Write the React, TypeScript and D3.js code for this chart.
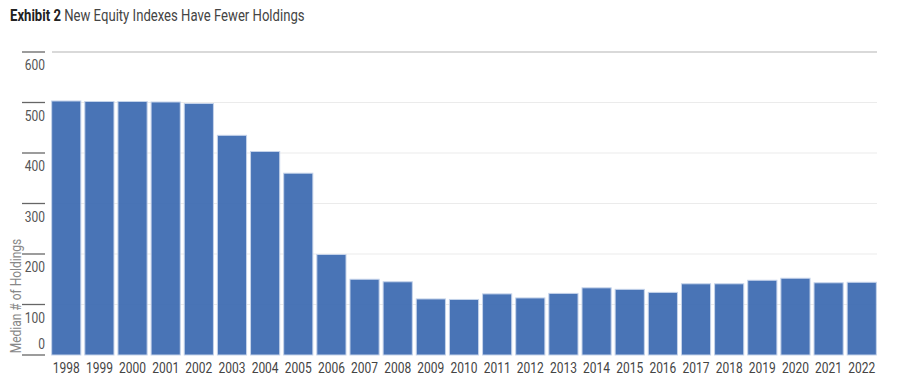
import React from "react";
import * as d3 from "d3";

const years = ["1998","1999","2000","2001","2002","2003","2004","2005","2006","2007","2008","2009","2010","2011","2012","2013","2014","2015","2016","2017","2018","2019","2020","2021","2022"];
const holdings = [503, 502, 502, 501, 498, 435, 403, 360, 199, 150, 145, 111, 110, 121, 113, 122, 133, 130, 124, 141, 141, 148, 152, 143, 144];
const yTicks = [0, 100, 200, 300, 400, 500, 600];

const W = 903, H = 378;
const FONT = "Roboto, sans-serif";

function CText(props: { x: number; y: number; rotate?: number; anchor?: string; size: number; fill: string; sx?: number; children: React.ReactNode }) {
  const { x, y, rotate = 0, anchor = "start", size, fill, sx = 0.8, children } = props;
  return (
    <text transform={`translate(${x},${y}) rotate(${rotate}) scale(${sx},1)`} textAnchor={anchor} fontFamily={FONT} fontSize={size} fill={fill}>
      {children}
    </text>
  );
}

export default function App() {
  const x = d3.scaleBand<string>().domain(years).range([51, 877]).paddingInner(0.12).paddingOuter(0.02);
  const y = d3.scaleLinear().domain([0, 600]).range([355, 52]);
  return (
    <svg width={W} height={H} style={{ position: "absolute", left: 0, top: 0, background: "#fff" }}>
      <CText x={10} y={21} size={16} sx={0.82} fill="#222">
        <tspan fontWeight="bold">Exhibit 2</tspan>
        <tspan fill="#444"> New Equity Indexes Have Fewer Holdings</tspan>
      </CText>
      {yTicks.map((t) => (
        <g key={t}>
          {t > 0 && (
            <line x1={52} x2={877} y1={y(t)} y2={y(t)} stroke={t === 600 ? "#cccccc" : "#ebebeb"} strokeWidth={t === 600 ? 1.5 : 1} />
          )}
          <line x1={22} x2={45} y1={y(t)} y2={y(t)} stroke="#666" strokeWidth={1.3} />
          <CText x={45} y={t === 0 ? y(t) - 6 : y(t) + 18} anchor="end" size={15} fill="#555">{t}</CText>
        </g>
      ))}
      <CText x={21} y={296} rotate={-90} anchor="middle" size={15} fill="#888">Median # of Holdings</CText>
      {years.map((yr, i) => (
        <rect key={yr} x={x(yr)} y={y(holdings[i])} width={x.bandwidth()} height={y(0) - y(holdings[i])}
          fill="#3f6db2" fillOpacity={0.95} stroke="#c5d3ea" strokeWidth={1} />
      ))}
      {years.map((yr) => (
        <CText key={yr} x={(x(yr) as number) + x.bandwidth() / 2} y={373} anchor="middle" size={15} fill="#444">{yr}</CText>
      ))}
    </svg>
  );
}
